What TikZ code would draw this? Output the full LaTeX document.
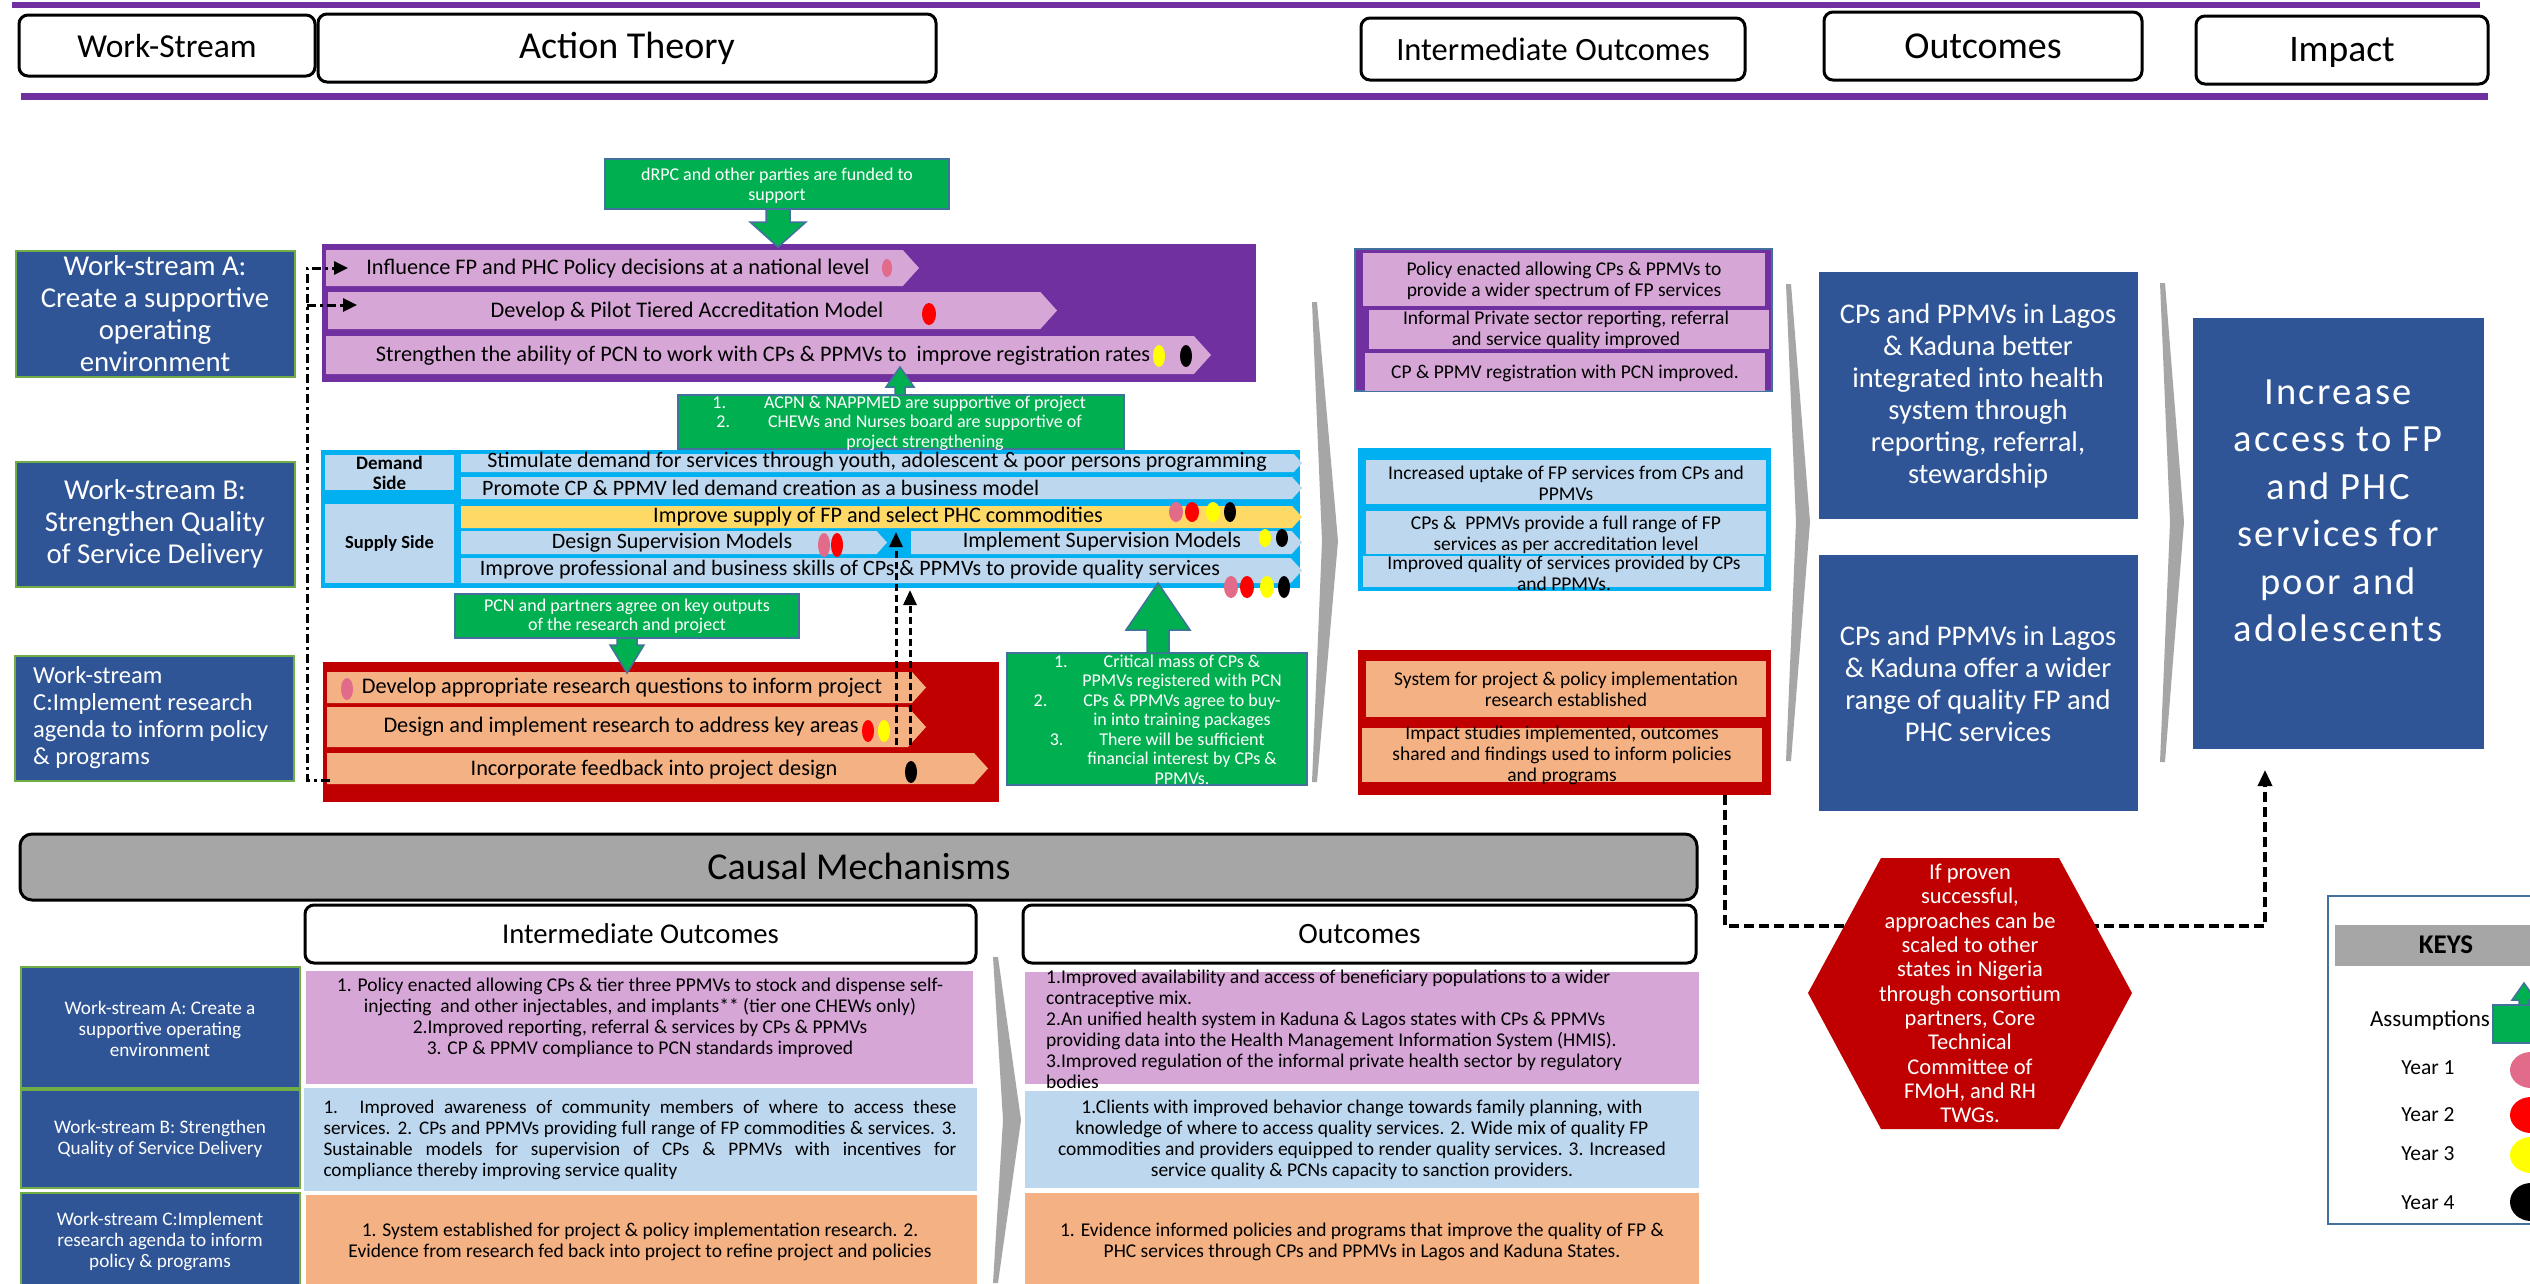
\documentclass[tikz,border=0pt]{standalone}
\usepackage{fontspec}
\setmainfont{Carlito}
\usetikzlibrary{arrows.meta}

\definecolor{wsblue}{RGB}{47,85,151}
\definecolor{ppl}{RGB}{112,48,160}
\definecolor{pinkbar}{RGB}{214,166,214}
\definecolor{cyanpanel}{RGB}{0,176,240}
\definecolor{lblue}{RGB}{189,215,238}
\definecolor{goldbar}{RGB}{255,217,102}
\definecolor{dred}{RGB}{192,0,0}
\definecolor{salmon}{RGB}{244,177,131}
\definecolor{asmgreen}{RGB}{0,176,80}
\definecolor{steel}{RGB}{65,113,156}
\definecolor{grayband}{RGB}{166,166,166}
\definecolor{wsgreen}{RGB}{112,173,71}
\definecolor{dotpink}{RGB}{226,107,138}
\definecolor{dotred}{RGB}{255,0,0}
\definecolor{dotyellow}{RGB}{255,255,0}

% font size helper: size and baseline skip in pt
\newcommand\fsz[2]{\fontsize{#1}{#2}\selectfont}
% empty box node from its corners: name, x1, y1, x2, y2, style
\newcommand\mkbox[6]{\node[#6, minimum width={(#4)-(#2)}, minimum height={(#5)-(#3)}] (#1) at ({((#2)+(#4))/2},{((#3)+(#5))/2}) {};}
% pointed action bar: name (left end), x1, y1, x2 (tip), y2, fill
\newcommand\mkbar[6]{%
  \fill[#6] (#2,#3) -- ({(#4)-0.45*((#5)-(#3))},#3) -- (#4,{((#3)+(#5))/2})
    -- ({(#4)-0.45*((#5)-(#3))},#5) -- (#2,#5) -- cycle;
  \coordinate (#1) at (#2,{((#3)+(#5))/2});}
% year marker
\newcommand\yr[5]{\fill[#1] (#2,#3) ellipse [x radius=#4, y radius=#5];}
% assumption block arrow: x, shaft start, head base, tip, shaft half width, head half width
\newcommand\asmarrow[6]{%
  \filldraw[asmfill] ({(#1)-(#5)},#2) -- ({(#1)-(#5)},#3) -- ({(#1)-(#6)},#3) -- (#1,#4)
    -- ({(#1)+(#6)},#3) -- ({(#1)+(#5)},#3) -- ({(#1)+(#5)},#2) -- cycle;}
% grey chevron separator: left x, top y, tip x, tip y, bottom y
\newcommand\sep[5]{%
  \fill[grayband] (#1,#2) -- ({(#1)+5},#2) -- (#3,#4) -- ({(#1)+5},#5) -- (#1,#5) -- ({(#1)+10},#4) -- cycle;}

\tikzset{
  hdr/.style={draw=black, line width=3pt, rounded corners=9pt, fill=white},
  wsbox/.style={draw=wsgreen, line width=1.2pt, fill=wsblue},
  asmbox/.style={draw=steel, line width=1.5pt, fill=asmgreen},
  asmfill/.style={draw=steel, line width=1.5pt, fill=asmgreen},
  txt/.style={inner sep=0pt, align=center, text=black},
  wtxt/.style={txt, text=white},
  bartxt/.style={txt, font=\fsz{22.3}{26}},
  asmtxt/.style={wtxt, font=\fsz{18}{19.5}},
  iotxt/.style={txt, font=\fsz{19.5}{21}},
  outtxt/.style={wtxt, font=\fsz{28.5}{32}},
  cmtxt/.style={txt, font=\fsz{19.5}{21}},
  cmlbl/.style={wtxt, font=\fsz{19.2}{21}},
  keytxt/.style={txt, font=\fsz{21.5}{25}},
  fbline/.style={line width=3pt, dash pattern=on 9pt off 4pt on 3pt off 4pt, -{Triangle[width=13pt,length=14pt]}},
  upline/.style={line width=3pt, dash pattern=on 7pt off 4pt, -{Triangle[width=13pt,length=15pt]}},
  scaleline/.style={line width=3.5pt, dash pattern=on 10pt off 5pt, -{Triangle[width=14pt,length=16pt]}},
}

\begin{document}
\begin{tikzpicture}[x=1pt,y=-1pt]
\useasboundingbox (0,0) rectangle (2530,1283);
\clip (0,0) rectangle (2530,1283);
\fill[white] (0,0) rectangle (2530,1283);

% ---------- column headers ----------
\draw[ppl, line width=6pt] (12,5) -- (2480,5);
\draw[ppl, line width=7pt] (21,96) -- (2488,96);
\mkbox{hws}{19}{15}{315}{76}{hdr}
\mkbox{hat}{318}{14}{936}{82}{hdr}
\mkbox{hio}{1361}{18}{1745}{80}{hdr}
\mkbox{hout}{1824}{12}{2142}{80}{hdr}
\mkbox{himp}{2196}{16}{2488}{84}{hdr}
\node[txt, font=\fsz{33.5}{38}] (hws-t) at (hws) {Work-Stream};
\node[txt, font=\fsz{38}{44}] (hat-t) at (hat) {Action Theory};
\node[txt, font=\fsz{32.5}{38}] (hio-t) at (hio) {Intermediate Outcomes};
\node[txt, font=\fsz{38}{44}] (hout-t) at (hout) {Outcomes};
\node[txt, font=\fsz{37.5}{44}] (himp-t) at ([yshift=-2pt]himp) {Impact};

% ---------- work-stream labels ----------
\mkbox{wsA}{16}{251}{295}{377}{wsbox}
\mkbox{wsB}{16}{462}{295}{587}{wsbox}
\mkbox{wsC}{15}{656}{294}{781}{wsbox}
\node[wtxt, font=\fsz{28.8}{32}] (wsA-t) at (155,314) {Work-stream A:\\Create a supportive\\operating\\environment};
\node[wtxt, font=\fsz{28.8}{32}] (wsB-t) at (155,524) {Work-stream B:\\Strengthen Quality\\of Service Delivery};
\node[wtxt, font=\fsz{24.5}{27}, align=left, anchor=west] (wsC-t) at (33,718) {Work-stream\\C:Implement research\\agenda to inform policy\\\& programs};

% ---------- work-stream A actions ----------
\mkbox{panelA}{322}{244}{1256}{382}{fill=ppl}
\mkbar{A1}{326}{250}{919}{286}{pinkbar}
\mkbar{A2}{328}{292}{1057}{329}{pinkbar}
\mkbar{A3}{326}{336}{1211}{374}{pinkbar}
\node[bartxt] (A1-t) at (618,269) {Influence FP and PHC Policy decisions at a national level};
\node[bartxt] (A2-t) at (687,312) {Develop \& Pilot Tiered Accreditation Model};
\node[bartxt] (A3-t) at (763,356) {Strengthen the ability of PCN to work with CPs \& PPMVs to\ \ improve registration rates};
\yr{dotpink}{887}{268}{5}{9}
\yr{dotred}{929}{314}{7}{11}
\yr{dotyellow}{1159}{356}{6}{11}
\yr{black}{1186}{356}{6}{11}

% ---------- work-stream B actions ----------
\mkbox{panelB}{321}{450}{1300}{588}{fill=cyanpanel}
\mkbox{demand}{325}{455}{454}{490}{fill=lblue}
\mkbox{supply}{325}{504}{454}{583}{fill=lblue}
\node[txt, font=\bfseries\fsz{19}{20}] (demand-t) at (demand) {Demand\\Side};
\node[txt, font=\bfseries\fsz{18.5}{20}] (supply-t) at (supply) {Supply Side};
\mkbar{B1}{461}{454}{1302}{472}{lblue}
\mkbar{B2}{461}{477}{1302}{499}{lblue}
\mkbar{B3}{461}{506}{1302}{528}{goldbar}
\mkbar{B4}{461}{531}{887}{554}{lblue}
\mkbar{B5}{911}{531}{1302}{554}{lblue}
\mkbar{B6}{461}{558}{1302}{583}{lblue}
\node[bartxt, font=\fsz{22}{24}] (B1-t) at (877,462) {Stimulate demand for services through youth, adolescent \& poor persons programming};
\node[bartxt, font=\fsz{22}{24}, anchor=west] (B2-t) at (482,488) {Promote CP \& PPMV led demand creation as a business model};
\node[bartxt, font=\fsz{22.2}{26}] (B3-t) at (878,517) {Improve supply of FP and select PHC commodities};
\node[bartxt, font=\fsz{22}{26}] (B4-t) at (672,543) {Design Supervision Models};
\node[bartxt, font=\fsz{22}{26}] (B5-t) at (1102,542) {Implement Supervision Models};
\node[bartxt, font=\fsz{22}{26}] (B6-t) at (850,570) {Improve professional and business skills of CPs \& PPMVs to provide quality services};
\yr{dotpink}{1176}{512}{7}{10}
\yr{dotred}{1192}{512}{7}{10}
\yr{dotyellow}{1213}{512}{7}{10}
\yr{black}{1230}{512}{6}{10}
\yr{dotpink}{824}{545}{6}{12}
\yr{dotred}{837}{545}{6}{12}
\yr{dotyellow}{1265}{538}{6}{9}
\yr{black}{1282}{538}{6}{9}
\yr{dotpink}{1231}{587}{7}{11}
\yr{dotred}{1247}{587}{7}{11}
\yr{dotyellow}{1267}{587}{7}{11}
\yr{black}{1284}{587}{6}{11}

% ---------- work-stream C actions ----------
\mkbox{panelC}{323}{662}{999}{802}{fill=dred}
\mkbar{C1}{327}{672}{926}{703}{salmon}
\mkbar{C2}{327}{707}{926}{747}{salmon}
\mkbar{C3}{327}{753}{988}{784}{salmon}
\node[bartxt] (C1-t) at (622,688) {Develop appropriate research questions to inform project};
\node[bartxt] (C2-t) at (621,727) {Design and implement research to address key areas};
\node[bartxt] (C3-t) at (654,770) {Incorporate feedback into project design};
\yr{dotpink}{347}{689}{6}{11}
\yr{dotred}{868}{731}{6}{11}
\yr{dotyellow}{884}{731}{6}{11}
\yr{black}{911}{772}{6}{11}

% ---------- feedback and dependency connectors ----------
\coordinate (fbC) at (330,780);
\coordinate (fbA1) at (348,268);
\coordinate (fbA2) at (357,305);
\coordinate (fbJ) at (307,305);
\draw[fbline] (fbC) -- (307,780) |- (fbA1);
\draw[fbline] (fbJ) -- (fbA2);
\coordinate (c2a) at (896,745);
\coordinate (gapB4) at (896,532);
\coordinate (c2b) at (910,745);
\coordinate (baseB) at (910,590);
\draw[upline] (c2a) -- (gapB4);
\draw[upline] (c2b) -- (baseB);

% ---------- assumptions ----------
\mkbox{G1}{605}{159}{949}{209}{asmbox}
\mkbox{G2}{678}{395}{1124}{449}{asmbox}
\mkbox{G3}{455}{594}{799}{638}{asmbox}
\mkbox{G4}{1007}{653}{1307}{785}{asmbox}
\asmarrow{778}{209}{222}{247}{12}{28}
\asmarrow{900}{395}{387}{367}{5}{14}
\asmarrow{627}{638}{645}{673}{10}{17}
\asmarrow{1158}{653}{630}{583}{11}{32}
\node[asmtxt] (G1-t) at (777,185.5) {dRPC and other parties are funded to\\support};
\node[asmtxt] (G2-t) at (925,423) {\llap{1.\hspace{38pt}}ACPN \& NAPPMED are supportive of project\\\llap{2.\hspace{38pt}}CHEWs and Nurses board are supportive of\\project strengthening};
\node[asmtxt] (G3-t) at (627,616.5) {PCN and partners agree on key outputs\\of the research and project};
\node[asmtxt] (G4-t) at (1182,719.5) {\llap{1.\hspace{36pt}}Critical mass of CPs \&\\PPMVs registered with PCN\\\llap{2.\hspace{36pt}}CPs \& PPMVs agree to buy-\\in into training packages\\\llap{3.\hspace{36pt}}There will be sufficient\\financial interest by CPs \&\\PPMVs.};

% ---------- separators ----------
\sep{1312}{302}{1338}{541}{782}
\sep{1786}{284}{1810}{522}{761}
\sep{2160}{283}{2184}{522}{762}
\sep{993}{957}{1021}{1120}{1283}

% ---------- intermediate outcomes ----------
\mkbox{ioA}{1355}{249}{1772}{391}{fill=ppl, draw=steel, line width=1.5pt}
\mkbox{ioA1}{1363}{253}{1765}{306}{fill=pinkbar}
\mkbox{ioA2}{1369}{310}{1769}{349}{fill=pinkbar}
\mkbox{ioA3}{1365}{353}{1765}{391}{fill=pinkbar}
\node[iotxt] (ioA1-t) at (1564,281) {Policy enacted allowing CPs \& PPMVs to\\provide a wider spectrum of FP services};
\node[iotxt] (ioA2-t) at (1566,330) {Informal Private sector reporting, referral\\and service quality improved};
\node[iotxt] (ioA3-t) at (1565,373) {CP \& PPMV registration with PCN improved.};
\mkbox{ioB}{1358}{448}{1771}{591}{fill=cyanpanel}
\mkbox{ioB1}{1366}{460}{1766}{504}{fill=lblue}
\mkbox{ioB2}{1366}{511}{1766}{554}{fill=lblue}
\mkbox{ioB3}{1363}{556}{1764}{587}{fill=lblue}
\node[iotxt] (ioB1-t) at (1566,483) {Increased uptake of FP services from CPs and\\PPMVs};
\node[iotxt] (ioB2-t) at (1566,534.5) {CPs \&\ \ PPMVs provide a full range of FP\\services as per accreditation level};
\node[iotxt] (ioB3-t) at (1564,573.5) {Improved quality of services provided by CPs\\and PPMVs.};
\mkbox{ioC}{1358}{650}{1771}{795}{fill=dred}
\mkbox{ioC1}{1366}{661}{1766}{717}{fill=salmon}
\mkbox{ioC2}{1362}{728}{1762}{782}{fill=salmon}
\node[iotxt] (ioC1-t) at (1566,689.5) {System for project \& policy implementation\\research established};
\node[iotxt] (ioC2-t) at (1562,755.5) {Impact studies implemented, outcomes\\shared and findings used to inform policies\\and programs};

% ---------- outcomes and impact ----------
\mkbox{out1}{1819}{272}{2138}{519}{fill=wsblue}
\mkbox{out2}{1819}{555}{2138}{811}{fill=wsblue}
\node[outtxt] (out1-t) at (1978,396) {CPs and PPMVs in Lagos\\\& Kaduna better\\integrated into health\\system through\\reporting, referral,\\stewardship};
\node[outtxt] (out2-t) at (1978,684) {CPs and PPMVs in Lagos\\\& Kaduna offer a wider\\range of quality FP and\\PHC services};
\mkbox{imp}{2193}{318}{2484}{749}{fill=wsblue}
\node[wtxt, font={\fsz{38.5}{47.5}\addfontfeature{LetterSpace=6}}] (imp-t) at (2338,511) {Increase\\access to FP\\and PHC\\services for\\poor and\\adolescents};

% ---------- scale-up route ----------
\coordinate (ioC-out) at (1725,795);
\coordinate (imp-in) at (2265,770);
\draw[scaleline] (ioC-out) -- (1725,926) -| (imp-in);
\fill[dred] (1881,858) -- (2059,858) -- (2132,993) -- (2059,1129) -- (1881,1129) -- (1808,993) -- cycle;
\node[wtxt, font=\fsz{22.5}{24.3}] (scale-t) at (1970,993.5) {If proven\\successful,\\approaches can be\\scaled to other\\states in Nigeria\\through consortium\\partners, Core\\Technical\\Committee of\\FMoH, and RH\\TWGs.};

% ---------- keys ----------
\mkbox{keys}{2328}{896}{2560}{1224}{draw=steel, line width=2.5pt, fill=white}
\mkbox{keyshd}{2335}{925}{2560}{966}{fill=grayband}
\node[txt, font=\bfseries\fsz{27}{30}] (keys-t) at (2446,945) {KEYS};
\node[keytxt, font=\fsz{23}{25}] (key-asm) at (2430,1020) {Assumptions};
\node[keytxt] (key-y1) at (2428,1068) {Year 1};
\node[keytxt] (key-y2) at (2428,1115) {Year 2};
\node[keytxt] (key-y3) at (2428,1154) {Year 3};
\node[keytxt] (key-y4) at (2428,1203) {Year 4};
\filldraw[asmfill] (2493,1005) rectangle (2560,1043);
\asmarrow{2524}{1005}{1000}{983}{5}{12}
\yr{dotpink}{2531}{1070}{21}{18}
\yr{dotred}{2531}{1115}{21}{18}
\yr{dotyellow}{2531}{1155}{21}{18}
\yr{black}{2531}{1202}{21}{19}

% ---------- causal mechanisms ----------
\mkbox{cm}{20}{834}{1697}{900}{draw=black, line width=3pt, rounded corners=12pt, fill=grayband}
\node[txt, font=\fsz{38}{44}] (cm-t) at (859,866) {Causal Mechanisms};
\mkbox{cmio}{305}{905}{976}{963}{hdr}
\mkbox{cmout}{1023}{905}{1696}{963}{hdr}
\node[txt, font=\fsz{28.7}{32}] (cmio-t) at (cmio) {Intermediate Outcomes};
\node[txt, font=\fsz{29.5}{32}] (cmout-t) at (cmout) {Outcomes};

\mkbox{cmA}{21}{967}{300}{1088}{wsbox}
\mkbox{cmB}{21}{1090}{300}{1188}{wsbox}
\mkbox{cmC}{21}{1193}{300}{1295}{wsbox}
\node[cmlbl] (cmA-t) at (160,1029) {Work-stream A: Create a\\supportive operating\\environment};
\node[cmlbl] (cmB-t) at (160,1139) {Work-stream B: Strengthen\\Quality of Service Delivery};
\node[cmlbl] (cmC-t) at (160,1241) {Work-stream C:Implement\\research agenda to inform\\policy \& programs};

\mkbox{cmioA}{306}{971}{973}{1084}{fill=pinkbar}
\mkbox{cmioB}{304}{1088}{977}{1191}{fill=lblue}
\mkbox{cmioC}{306}{1195}{977}{1295}{fill=salmon}
\node[cmtxt] (cmioA-t) at (640,1018) {1. Policy enacted allowing CPs \& tier three PPMVs to stock and dispense self-\\injecting\ \ and other injectables, and implants** (tier one CHEWs only)\\2.Improved reporting, referral \& services by CPs \& PPMVs\\3. CP \& PPMV compliance to PCN standards improved};
\node[cmtxt, font=\fsz{19.2}{21}, align=left] (cmioB-t) at (640,1140) {\makebox[633pt][s]{1. Improved awareness of community members of where to access these}\\\makebox[633pt][s]{services. 2. CPs and PPMVs providing full range of FP commodities \& services. 3.}\\\makebox[633pt][s]{Sustainable models for supervision of CPs \& PPMVs with incentives for}\\compliance thereby improving service quality};
\node[cmtxt] (cmioC-t) at (640,1242) {1. System established for project \& policy implementation research. 2.\\Evidence from research fed back into project to refine project and policies};

\mkbox{cmoA}{1025}{972}{1699}{1084}{fill=pinkbar}
\mkbox{cmoB}{1025}{1091}{1699}{1188}{fill=lblue}
\mkbox{cmoC}{1025}{1193}{1699}{1295}{fill=salmon}
\node[cmtxt, align=left, anchor=west] (cmoA-t) at (1046,1029) {1.Improved availability and access of beneficiary populations to a wider\\contraceptive mix.\\2.An unified health system in Kaduna \& Lagos states with CPs \& PPMVs\\providing data into the Health Management Information System (HMIS).\\3.Improved regulation of the informal private health sector by regulatory\\bodies};
\node[cmtxt] (cmoB-t) at (1362,1140) {1.Clients with improved behavior change towards family planning, with\\knowledge of where to access quality services. 2. Wide mix of quality FP\\commodities and providers equipped to render quality services. 3. Increased\\service quality \& PCNs capacity to sanction providers.};
\node[cmtxt] (cmoC-t) at (1362,1242) {1. Evidence informed policies and programs that improve the quality of FP \&\\PHC services through CPs and PPMVs in Lagos and Kaduna States.};

\end{tikzpicture}
\end{document}
